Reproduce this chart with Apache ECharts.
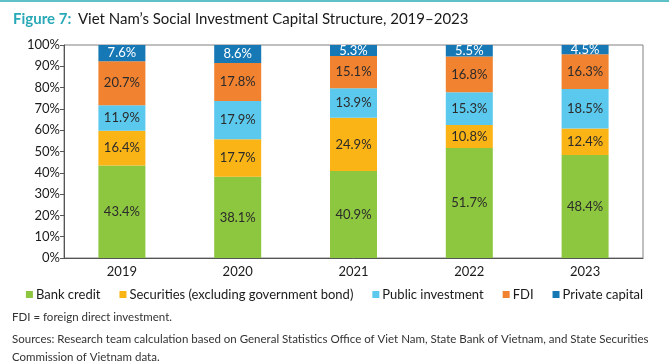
<!DOCTYPE html>
<html><head><meta charset="utf-8">
<script src="https://cdn.jsdelivr.net/npm/echarts@6/dist/echarts.min.js"></script>
<style>html,body{margin:0;padding:0;background:#fff}#c{width:669px;height:364px}</style>
</head><body><div id="c"></div>
<script>
const categories = ['2019','2020','2021','2022','2023'];
const bankCredit = [43.4, 38.1, 40.9, 51.7, 48.4];
const securities = [16.4, 17.7, 24.9, 10.8, 12.4];
const publicInvestment = [11.9, 17.9, 13.9, 15.3, 18.5];
const fdi = [20.7, 17.8, 15.1, 16.8, 16.3];
const privateCapital = [7.6, 8.6, 5.3, 5.5, 4.5];
const seriesNames = ['Bank credit','Securities (excluding government bond)','Public investment','FDI','Private capital'];
const yTicks = [0,10,20,30,40,50,60,70,80,90,100];

const FONT = 'Lato';
const colors = ['#8DC63F','#FBB416','#5BC9EE','#F18230','#1679B6'];
const labelColors = ['#2b2b2b','#2b2b2b','#2b2b2b','#2b2b2b','#ffffff'];
const dataSets = [bankCredit, securities, publicInvestment, fdi, privateCapital];

const chart = echarts.init(document.getElementById('c'));
chart.setOption({
  animation: false,
  textStyle: {fontFamily: FONT},
  graphic: [
    {type:'rect', shape:{x:0,y:0,width:669,height:2}, style:{fill:'#5FC1C8'}},
    {type:'text', left:13, top:12, style:{
      text:'{a|Figure 7:}  {b|Viet Nam\u2019s Social Investment Capital Structure, 2019\u20132023}',
      rich:{a:{fontFamily:FONT,fontSize:15,fontWeight:'bold',fill:'#29A9B8'},
            b:{fontFamily:FONT,fontSize:15,fill:'#1a1a1a'}}}},
    {type:'text', left:12, top:311, style:{text:'FDI = foreign direct investment.', fontFamily:FONT, fontSize:11.5, fill:'#333'}},
    {type:'text', left:12, top:330, style:{text:'Sources: Research team calculation based on General Statistics Office of Viet Nam, State Bank of Vietnam, and State Securities\nCommission of Vietnam data.', fontFamily:FONT, fontSize:11.5, lineHeight:18, fill:'#333'}}
  ],
  legend: {
    left: 'center', top: 283, itemWidth: 7, itemHeight: 7, itemGap: 19,
    icon: 'rect',
    textStyle: {fontFamily: FONT, fontSize: 13, color: '#1a1a1a', padding:[0,0,0,-2]},
    data: seriesNames
  },
  grid: {left: 64, right: 26, top: 45, bottom: 106, show: true, borderColor: '#808080', borderWidth: 1},
  xAxis: {
    type: 'category', data: categories,
    axisLine: {lineStyle: {color: '#555', width: 1}},
    axisTick: {show: false},
    axisLabel: {fontFamily: FONT, fontSize: 13, color: '#1a1a1a', margin: 7}
  },
  yAxis: {
    type: 'value', min: 0, max: 100, interval: 10,
    axisLine: {show: true, lineStyle: {color: '#555'}},
    axisTick: {show: true, length: 4, lineStyle: {color: '#555'}},
    splitLine: {show: false},
    axisLabel: {fontFamily: FONT, fontSize: 13, color: '#1a1a1a', margin: 4,
      formatter: v => yTicks.includes(v) ? v + '%' : ''}
  },
  series: seriesNames.map((n, i) => ({
    name: n, type: 'bar', stack: 'total', barWidth: 47,
    itemStyle: {color: colors[i]},
    data: dataSets[i],
    label: {show: true, position: 'inside', fontFamily: FONT, fontSize: 13, color: labelColors[i],
      formatter: p => p.value.toFixed(1) + '%'}
  }))
});
</script></body></html>
